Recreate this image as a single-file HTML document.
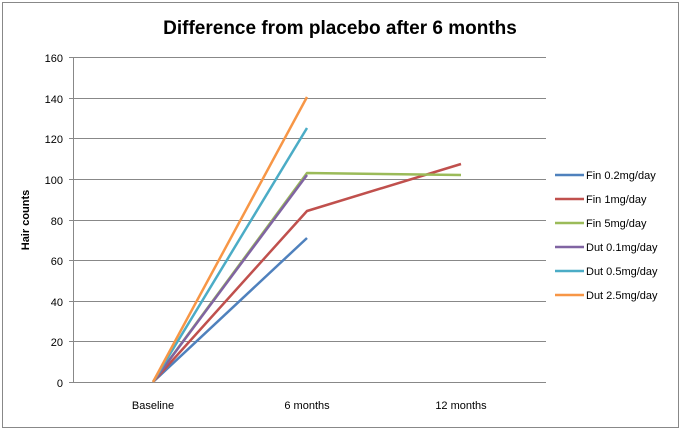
<!DOCTYPE html><html><head><style>body{margin:0;background:#fff}svg{display:block;font-family:"Liberation Sans",sans-serif}</style></head><body>
<svg width="682" height="431" xmlns="http://www.w3.org/2000/svg">
<rect x="2.5" y="2.5" width="676" height="425" fill="#fff" stroke="#888"/>
<text x="340" y="34" text-anchor="middle" font-size="19" font-weight="bold">Difference from placebo after 6 months</text>
<g stroke="#888" stroke-width="1">
<line x1="73" y1="57.5" x2="546" y2="57.5"/><line x1="73" y1="98.5" x2="546" y2="98.5"/><line x1="73" y1="138.5" x2="546" y2="138.5"/><line x1="73" y1="179.5" x2="546" y2="179.5"/><line x1="73" y1="220.5" x2="546" y2="220.5"/><line x1="73" y1="260.5" x2="546" y2="260.5"/><line x1="73" y1="301.5" x2="546" y2="301.5"/><line x1="73" y1="341.5" x2="546" y2="341.5"/><line x1="73" y1="382.5" x2="546" y2="382.5"/>
<line x1="73.5" y1="57" x2="73.5" y2="382"/>
<line x1="69" y1="57.5" x2="73" y2="57.5"/><line x1="69" y1="98.5" x2="73" y2="98.5"/><line x1="69" y1="138.5" x2="73" y2="138.5"/><line x1="69" y1="179.5" x2="73" y2="179.5"/><line x1="69" y1="220.5" x2="73" y2="220.5"/><line x1="69" y1="260.5" x2="73" y2="260.5"/><line x1="69" y1="301.5" x2="73" y2="301.5"/><line x1="69" y1="341.5" x2="73" y2="341.5"/><line x1="69" y1="382.5" x2="73" y2="382.5"/>
</g>
<g font-size="11" text-anchor="end" fill="#000">
<text x="63" y="62">160</text><text x="63" y="103">140</text><text x="63" y="143">120</text><text x="63" y="184">100</text><text x="63" y="225">80</text><text x="63" y="265">60</text><text x="63" y="306">40</text><text x="63" y="346">20</text><text x="63" y="387">0</text>
</g>
<g font-size="11" text-anchor="middle"><text x="153" y="409">Baseline</text><text x="307" y="409">6 months</text><text x="461" y="409">12 months</text></g>
<text transform="translate(29,220) rotate(-90)" text-anchor="middle" font-size="11" font-weight="bold">Hair counts</text>
<g fill="none" stroke-width="2.5" stroke-linejoin="round">
<polyline stroke="#4f81bd" points="153,382 307,238"/>
<polyline stroke="#c0504d" points="153,382 307,211 461,164"/>
<polyline stroke="#9bbb59" points="153,382 307,173 461,175"/>
<polyline stroke="#8064a2" points="153,382 307,175"/>
<polyline stroke="#4bacc6" points="153,382 307,128"/>
<polyline stroke="#f79646" points="153,382 307,97"/>
</g>
<g stroke-width="2.5">
<line x1="555" y1="175" x2="584" y2="175" stroke="#4f81bd"/>
<line x1="555" y1="199" x2="584" y2="199" stroke="#c0504d"/>
<line x1="555" y1="223" x2="584" y2="223" stroke="#9bbb59"/>
<line x1="555" y1="247" x2="584" y2="247" stroke="#8064a2"/>
<line x1="555" y1="271" x2="584" y2="271" stroke="#4bacc6"/>
<line x1="555" y1="295" x2="584" y2="295" stroke="#f79646"/>
</g>
<g font-size="11"><text x="586" y="179">Fin 0.2mg/day</text><text x="586" y="203">Fin 1mg/day</text><text x="586" y="227">Fin 5mg/day</text><text x="586" y="251">Dut 0.1mg/day</text><text x="586" y="275">Dut 0.5mg/day</text><text x="586" y="299">Dut 2.5mg/day</text></g>
</svg></body></html>
